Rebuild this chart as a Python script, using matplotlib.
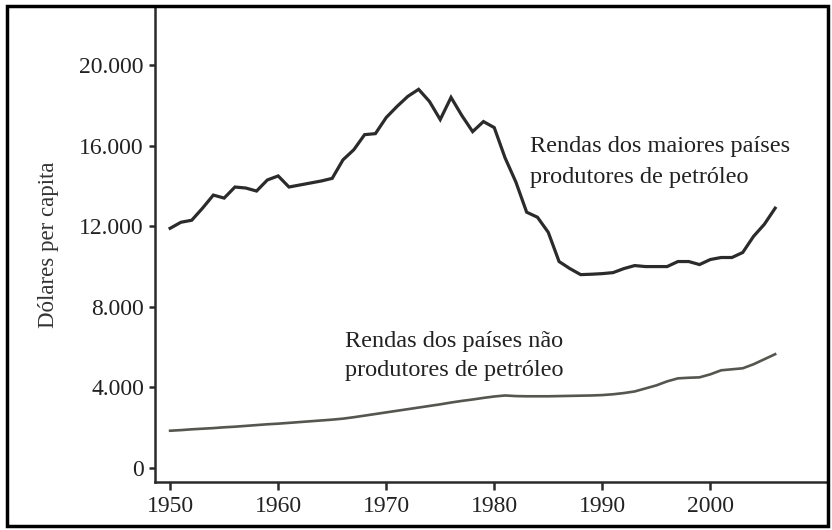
import matplotlib.pyplot as plt
from matplotlib.patches import Rectangle
import numpy as np

plt.rcParams['font.family'] = ['Liberation Serif', 'DejaVu Serif']

years = np.arange(1950, 2007)

# rendas dos maiores paises produtores de petroleo (dolares per capita)
oil = [11900, 12200, 12300, 12900, 13550, 13400, 13950, 13900, 13750, 14300,
       14500, 13950, 14050, 14150, 14250, 14380, 15300, 15800, 16550, 16600,
       17400, 17950, 18450, 18800, 18200, 17300, 18400, 17500, 16700, 17200,
       16900, 15400, 14200, 12700, 12450, 11700, 10250, 9900, 9600, 9620,
       9650, 9700, 9900, 10050, 10000, 10000, 10000, 10250, 10250, 10100,
       10350, 10450, 10450, 10700, 11500, 12100, 12900]

# rendas dos paises nao produtores
non_oil = [1850, 1880, 1920, 1950, 1980, 2020, 2050, 2090, 2130, 2170,
           2200, 2240, 2280, 2320, 2360, 2400, 2450, 2520, 2600, 2680,
           2760, 2840, 2920, 3000, 3080, 3160, 3250, 3330, 3400, 3480,
           3550, 3600, 3570, 3560, 3560, 3560, 3570, 3580, 3590, 3600,
           3620, 3660, 3720, 3800, 3950, 4100, 4300, 4450, 4480, 4500,
           4650, 4850, 4900, 4950, 5150, 5400, 5650]

yticks = [0, 4000, 8000, 12000, 16000, 20000]
ytick_labels = ['0', '4.000', '8.000', '12.000', '16.000', '20.000']
xticks = [1950, 1960, 1970, 1980, 1990, 2000]

fig = plt.figure(figsize=(8.32, 5.30), dpi=100)
ax = fig.add_axes([0.1863, 0.0906, 0.809, 0.894])

ax.plot(years, oil, color='#2b2b2b', lw=2.3, solid_joinstyle='miter')
ax.plot(years, non_oil, color='#55564f', lw=1.9)

ax.set_xlim(1948.6, 2010.9)
ax.set_ylim(-695, 22830)

ax.set_yticks(yticks)
ax.set_yticklabels(ytick_labels)
ax.set_xticks(xticks)

for s in ['top', 'right']:
    ax.spines[s].set_visible(False)
for s in ['left', 'bottom']:
    ax.spines[s].set_linewidth(1.8)
    ax.spines[s].set_color('#2a2a2a')

ax.tick_params(axis='y', direction='out', length=4, width=1.8, color='#2a2a2a',
               labelsize=17, pad=4, labelcolor='#222222')
ax.tick_params(axis='x', direction='out', length=6, width=1.8, color='#2a2a2a',
               labelsize=17, pad=4, labelcolor='#222222')

ax.set_ylabel('Dólares per capita', fontsize=16.5, color='#333333')
ax.yaxis.set_label_coords(-0.142, 0.5)

ax.text(1983.3, 15200, 'Rendas dos maiores países\nprodutores de petróleo',
        fontsize=17.5, color='#222222', va='center', ha='left', linespacing=1.6)
ax.text(1966.2, 5550, 'Rendas dos países não\nprodutores de petróleo',
        fontsize=17.5, color='#222222', va='center', ha='left', linespacing=1.5)

# moldura preta em volta da figura
fig.patches.append(Rectangle((0.0084, 0.008), 0.987, 0.981, transform=fig.transFigure,
                             fill=False, edgecolor='black', linewidth=2.5))

fig.savefig('out.png', dpi=100)
